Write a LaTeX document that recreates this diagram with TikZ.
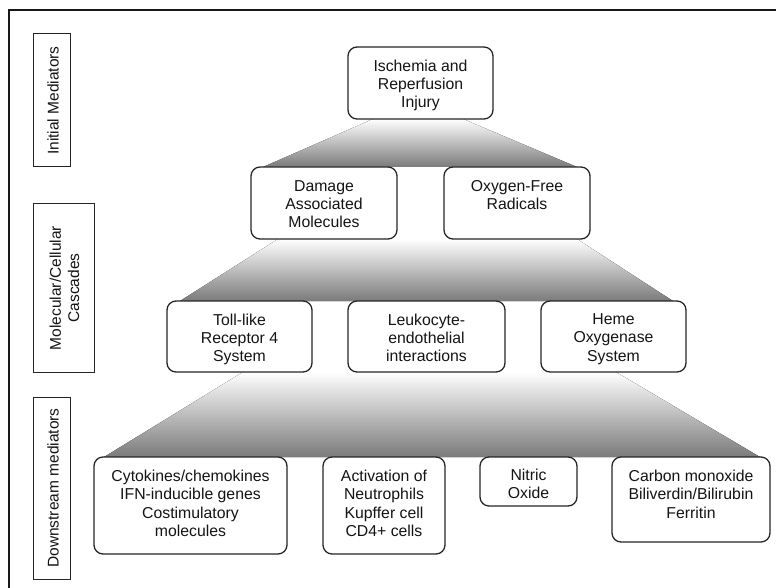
\documentclass[tikz,border=0pt]{standalone}
\usepackage{fontspec}
\setmainfont{Liberation Sans}
\begin{document}
\begin{tikzpicture}[x=1pt,y=-1pt,
  rbox/.style={draw=black!85, line width=1.3pt, rounded corners=9pt, fill=white, inner sep=0pt, outer sep=0pt, anchor=north west},
  lbl/.style={draw=black!85, line width=1pt, fill=white, inner sep=0pt, outer sep=0pt, anchor=north west},
  txt/.style={font=\fontsize{15.8}{18.3}\selectfont, align=center, inner sep=0pt, anchor=north, text=black!92},
  ltxt/.style={font=\fontsize{15.5}{18.3}\selectfont, align=center, inner sep=0pt, anchor=center, rotate=90, text=black!92},
  trap/.style={top color=white, bottom color=black!52, draw=none}]
\useasboundingbox (0,0) rectangle (776,588);
% outer frame
\draw[line width=2pt, black!90] (9,590) -- (9,10) -- (778,10);
% gradient fans
\fill[trap] (373,119) -- (463,119) -- (577,167) -- (263,167) -- cycle;
\fill[trap] (278,239) -- (577,239) -- (673,301) -- (180,301) -- cycle;
\fill[trap] (243,372) -- (616,372) -- (760,457) -- (104,457) -- cycle;
% left labels
\node[lbl, minimum width=37pt, minimum height=133pt] (l1) at (33,34) {};
\node[ltxt] (l1t) at ([xshift=1.5pt]l1.center) {Initial Mediators};
\node[lbl, minimum width=61pt, minimum height=168pt] (l2) at (33,204) {};
\node[ltxt] (l2t) at ([xshift=1pt]l2.center) {Molecular/Cellular\\Cascades};
\node[lbl, minimum width=37pt, minimum height=182pt] (l3) at (33,397) {};
\node[ltxt] (l3t) at ([xshift=1.5pt]l3.center) {Downstream mediators};
% boxes
\node[rbox, minimum width=145pt, minimum height=72pt] (isch) at (348,47) {};
\node[txt] (ischt) at ([yshift=-12.5pt]isch.north) {Ischemia and\\Reperfusion\\Injury};
\node[rbox, minimum width=146pt, minimum height=72pt] (dam) at (251,167) {};
\node[txt] (damt) at ([yshift=-13pt]dam.north) {Damage\\Associated\\Molecules};
\node[rbox, minimum width=146pt, minimum height=72pt] (oxy) at (444,167) {};
\node[txt] (oxyt) at ([yshift=-13pt]oxy.north) {Oxygen-Free\\Radicals};
\node[rbox, minimum width=145pt, minimum height=71pt] (toll) at (167,301) {};
\node[txt] (tollt) at ([yshift=-12.5pt]toll.north) {Toll-like\\Receptor 4\\System};
\node[rbox, minimum width=157pt, minimum height=71pt] (leuk) at (348,301) {};
\node[txt] (leukt) at ([yshift=-12.5pt]leuk.north) {Leukocyte-\\endothelial\\interactions};
\node[rbox, minimum width=145pt, minimum height=71pt] (heme) at (541,301) {};
\node[txt] (hemet) at ([yshift=-12.5pt]heme.north) {Heme\\Oxygenase\\System};
\node[rbox, minimum width=193pt, minimum height=97pt] (cyto) at (94,457) {};
\node[txt] (cytot) at ([yshift=-13pt]cyto.north) {Cytokines/chemokines\\IFN-inducible genes\\Costimulatory\\molecules};
\node[rbox, minimum width=122pt, minimum height=97pt] (act) at (323,457) {};
\node[txt] (actt) at ([yshift=-13pt]act.north) {Activation of\\Neutrophils\\Kupffer cell\\CD4+ cells};
\node[rbox, minimum width=97pt, minimum height=49pt] (nit) at (480,457) {};
\node[txt] (nitt) at ([yshift=-12pt]nit.north) {Nitric\\Oxide};
\node[rbox, minimum width=158pt, minimum height=85pt] (carb) at (612,457) {};
\node[txt] (carbt) at ([yshift=-13pt]carb.north) {Carbon monoxide\\Biliverdin/Bilirubin\\Ferritin};
\end{tikzpicture}
\end{document}
